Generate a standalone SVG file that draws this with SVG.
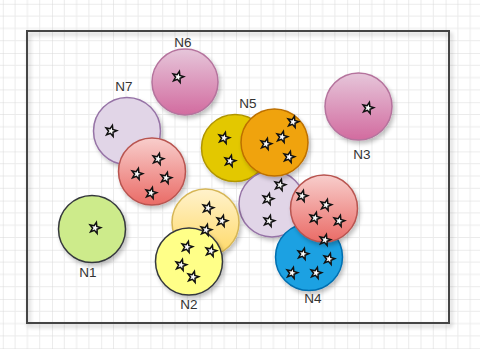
<svg xmlns="http://www.w3.org/2000/svg" xmlns:xlink="http://www.w3.org/1999/xlink" width="480" height="349" viewBox="0 0 480 349">
<defs>
  <pattern id="grid" patternUnits="userSpaceOnUse" x="2.8" y="3.8" width="49.2" height="49.2">
    <path d="M12.3 0V49.2M24.6 0V49.2M36.9 0V49.2M0 12.3H49.2M0 24.6H49.2M0 36.9H49.2" stroke="#ebebeb" stroke-width="1" fill="none"/>
    <path d="M0 0V49.2M0 0H49.2" stroke="#d9d9d9" stroke-width="1" fill="none"/>
  </pattern>
  <filter id="sh" x="-30%" y="-30%" width="160%" height="160%">
    <feGaussianBlur in="SourceAlpha" stdDeviation="2"/>
    <feOffset dx="2" dy="3" result="b"/>
    <feComponentTransfer><feFuncA type="linear" slope="0.25"/></feComponentTransfer>
    <feMerge><feMergeNode/><feMergeNode in="SourceGraphic"/></feMerge>
  </filter>
  <linearGradient id="gPink" x1="0" y1="0" x2="0" y2="1"><stop offset="0" stop-color="#e6c6da"/><stop offset="1" stop-color="#d26b9f"/></linearGradient>
  <linearGradient id="gRed" x1="0" y1="0" x2="0" y2="1"><stop offset="0" stop-color="#f8cecc"/><stop offset="1" stop-color="#ea6b66"/></linearGradient>
  <linearGradient id="gPeach" x1="0" y1="0" x2="0" y2="1"><stop offset="0" stop-color="#fff2cc"/><stop offset="1" stop-color="#ffd966"/></linearGradient>
  <radialGradient id="gStar"><stop offset="0" stop-color="#ffffff"/><stop offset="0.6" stop-color="#f4f4f4"/><stop offset="1" stop-color="#a0a0a0"/></radialGradient>
  <polygon id="star" points="0,-5.8 1.4,-1.95 5.5,-1.8 2.3,0.75 3.4,4.7 0,2.4 -3.4,4.7 -2.3,0.75 -5.5,-1.8 -1.4,-1.95" fill="url(#gStar)" stroke="#111" stroke-width="1.5" stroke-linejoin="miter" transform="rotate(14)"/>
</defs>
<style>
  .lbl { font-family: "Liberation Sans", Arial, sans-serif; font-size: 13.5px; fill: #333333; text-anchor: middle; }
  .c { filter: url(#sh); stroke-width: 1.5; }
  .pink { fill: url(#gPink); stroke: #b5739d; }
  .lav { fill: #e1d5e7; stroke: #9673a6; }
  .red { fill: url(#gRed); stroke: #b85450; }
  .gold { fill: #e3c800; stroke: #b09500; }
  .orange { fill: #f0a30a; stroke: #bd7000; }
  .peach { fill: url(#gPeach); stroke: #d6b656; }
  .yel { fill: #ffff88; stroke: #36393d; }
  .green { fill: #cdeb8b; stroke: #36393d; }
  .blue { fill: #1ba1e2; stroke: #006eaf; }
</style>
<rect width="480" height="349" fill="#ffffff"/>
<rect width="480" height="349" fill="url(#grid)"/>
<g id="frame">
  <rect x="27" y="31" width="422" height="292" fill="none" stroke="#444444" stroke-width="2" filter="url(#sh)"/>
</g>
<g id="connectors"/>
<g id="N6">
  <circle class="c pink" cx="185" cy="82" r="33"/>
  <use xlink:href="#star" x="178" y="77"/>
  <text class="lbl" x="183" y="47">N6</text>
</g>
<g id="N7">
  <circle class="c lav" cx="127" cy="131" r="33.5"/>
  <use xlink:href="#star" x="111" y="131"/>
  <text class="lbl" x="124" y="91">N7</text>
</g>
<g id="red1">
  <circle class="c red" cx="152" cy="171.5" r="33.5"/>
  <use xlink:href="#star" x="158" y="159"/>
  <use xlink:href="#star" x="137" y="174"/>
  <use xlink:href="#star" x="166" y="178"/>
  <use xlink:href="#star" x="151" y="193"/>
</g>
<g id="N3">
  <circle class="c pink" cx="358.5" cy="106.5" r="33.5"/>
  <use xlink:href="#star" x="368" y="108"/>
  <text class="lbl" x="362" y="159">N3</text>
</g>
<g id="N5">
  <circle class="c gold" cx="235" cy="148" r="33.5"/>
  <use xlink:href="#star" x="224" y="138"/>
  <use xlink:href="#star" x="230" y="161"/>
  <text class="lbl" x="248" y="108">N5</text>
</g>
<g id="lav2">
  <circle class="c lav" cx="272" cy="204" r="33"/>
  <use xlink:href="#star" x="280" y="185"/>
  <use xlink:href="#star" x="268" y="199"/>
  <use xlink:href="#star" x="269" y="221"/>
</g>
<g id="orange">
  <circle class="c orange" cx="274.5" cy="142.5" r="33.5"/>
  <use xlink:href="#star" x="293" y="122"/>
  <use xlink:href="#star" x="282" y="137"/>
  <use xlink:href="#star" x="266" y="144"/>
  <use xlink:href="#star" x="289" y="157"/>
</g>
<g id="N4">
  <circle class="c blue" cx="309" cy="257" r="33.5"/>
  <use xlink:href="#star" x="303" y="254"/>
  <use xlink:href="#star" x="329" y="259"/>
  <use xlink:href="#star" x="292" y="273"/>
  <use xlink:href="#star" x="316" y="273"/>
  <text class="lbl" x="313" y="303">N4</text>
</g>
<g id="red2">
  <circle class="c red" cx="324" cy="208.5" r="33.5"/>
  <use xlink:href="#star" x="302" y="196"/>
  <use xlink:href="#star" x="326" y="205"/>
  <use xlink:href="#star" x="315" y="218"/>
  <use xlink:href="#star" x="339" y="221"/>
  <use xlink:href="#star" x="325" y="240"/>
</g>
<g id="N1">
  <circle class="c green" cx="92" cy="229" r="33.5"/>
  <use xlink:href="#star" x="95" y="228"/>
  <text class="lbl" x="88" y="277">N1</text>
</g>
<g id="peach">
  <circle class="c peach" cx="205.5" cy="222.5" r="33.5"/>
  <use xlink:href="#star" x="208" y="208"/>
  <use xlink:href="#star" x="222" y="221"/>
</g>
<g id="N2">
  <circle class="c yel" cx="189" cy="261.5" r="33.5"/>
  <use xlink:href="#star" x="206" y="230"/>
  <use xlink:href="#star" x="187" y="247"/>
  <use xlink:href="#star" x="211" y="251"/>
  <use xlink:href="#star" x="181" y="265"/>
  <use xlink:href="#star" x="193" y="277"/>
  <text class="lbl" x="189" y="309">N2</text>
</g>
</svg>
